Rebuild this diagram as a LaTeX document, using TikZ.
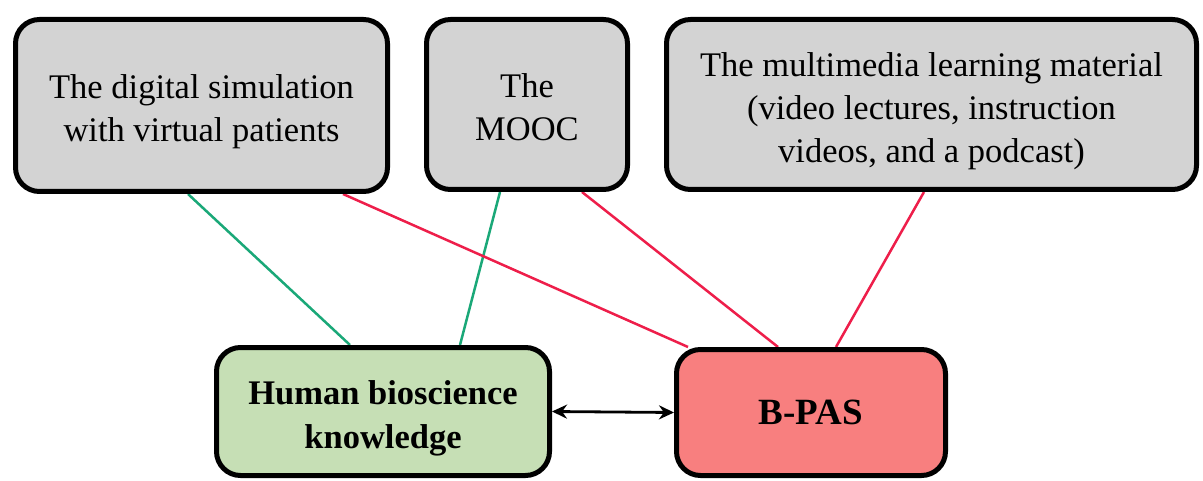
\documentclass[tikz,border=0pt]{standalone}
\usepackage{fontspec}
\setmainfont{Liberation Serif}
\usetikzlibrary{backgrounds,arrows.meta}
\definecolor{boxgray}{HTML}{D3D3D3}
\definecolor{boxgreen}{HTML}{C6DFB5}
\definecolor{boxred}{HTML}{F87F7F}
\definecolor{lgreen}{HTML}{1AA878}
\definecolor{lred}{HTML}{EE1E4A}
\newcommand{\lowtext}[2]{\raisebox{-#1}[\height][\depth]{\begin{tabular}{@{}c@{}}#2\end{tabular}}}
\tikzset{
  box/.style={draw=black, line width=5pt, rounded corners=24pt, align=center,
    font=\fontsize{34.5}{43}\selectfont, inner sep=0pt},
  graybox/.style={box, fill=boxgray},
  gline/.style={draw=lgreen, line width=2.5pt},
  rline/.style={draw=lred, line width=2.5pt},
  bothtip/.style={{Stealth[length=15pt,width=14pt]}-{Stealth[length=15pt,width=14pt]}},
}
\begin{document}
\begin{tikzpicture}[x=1pt,y=-1pt]
\useasboundingbox (0,0) rectangle (1203,481);
\node[graybox, minimum width=372pt, minimum height=172pt] (sim) at (201.5,105.5)
  {\lowtext{6pt}{The digital simulation\\with virtual patients}};
\node[graybox, minimum width=201pt, minimum height=170pt] (mooc) at (527,104.5)
  {\lowtext{6pt}{The\\MOOC}};
\node[graybox, minimum width=530pt, minimum height=170pt] (mm) at (931.5,104.5)
  {\lowtext{6pt}{The multimedia learning material\\(video lectures, instruction\\videos, and a podcast)}};
\node[box, fill=boxgreen, minimum width=333pt, minimum height=128pt, font=\fontsize{34.5}{44}\selectfont\bfseries] (hb) at (383,411.5)
  {\lowtext{6pt}{Human bioscience\\knowledge}};
\node[box, fill=boxred, minimum width=269pt, minimum height=126pt, font=\fontsize{37}{44}\selectfont\bfseries] (bp) at (811,412.5)
  {\lowtext{3pt}{B-PAS}};
\begin{scope}[on background layer]
  \fill[white] (0,0) rectangle (1203,481);
  \draw[gline] ([xshift=-13.5pt]sim.south) -- ([xshift=-33pt]hb.north);
  \draw[gline] ([xshift=-27pt]mooc.south) -- ([xshift=77pt]hb.north);
  \draw[rline] ([xshift=141.5pt]sim.south) -- ([xshift=-123pt]bp.north);
  \draw[rline] ([xshift=55pt]mooc.south) -- ([xshift=-33pt]bp.north);
  \draw[rline] ([xshift=-7.5pt]mm.south) -- ([xshift=25pt]bp.north);
\end{scope}
\draw[line width=2.8pt, bothtip] (hb.east) -- (bp.west);
\end{tikzpicture}
\end{document}
